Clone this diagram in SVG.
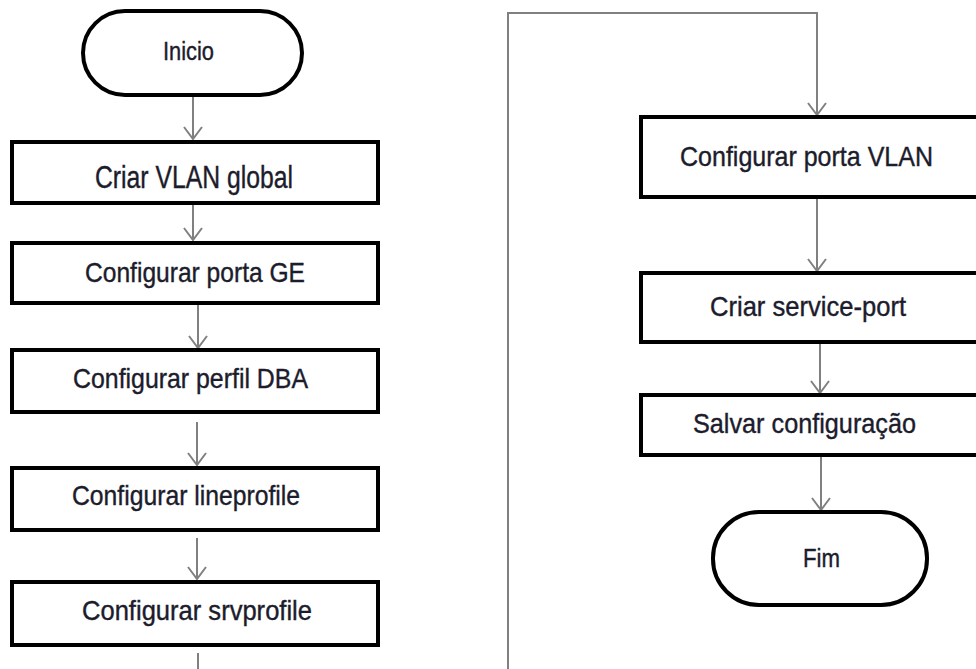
<svg xmlns="http://www.w3.org/2000/svg" width="976" height="669" viewBox="0 0 976 669">
<defs>
<style>
.box{fill:#fff;stroke:#000;stroke-width:4}
.t{font-family:"Liberation Sans",Arial,sans-serif;font-size:28px;fill:#1c1c2c;stroke:#1c1c2c;stroke-width:0.4}
.c{fill:none;stroke:#808080;stroke-width:2}
</style>
<marker id="ah" viewBox="0 0 14 20" refX="13" refY="10" markerWidth="14" markerHeight="20" markerUnits="userSpaceOnUse" orient="auto">
<path d="M1,1 L13,10 L1,19" fill="none" stroke="#808080" stroke-width="2"/>
</marker>
</defs>
<rect width="976" height="669" fill="#fff"/>
<g id="connectors">
<path class="c" d="M193,95 V139" marker-end="url(#ah)"/>
<path class="c" d="M193,203 V240" marker-end="url(#ah)"/>
<path class="c" d="M198,305 V348" marker-end="url(#ah)"/>
<path class="c" d="M197,422 V465" marker-end="url(#ah)"/>
<path class="c" d="M197,538 V579" marker-end="url(#ah)"/>
<path class="c" d="M198,653 V669"/>
<path class="c" d="M508,669 V13 H817 V115" marker-end="url(#ah)"/>
<path class="c" d="M817,197 V271" marker-end="url(#ah)"/>
<path class="c" d="M820,342 V393" marker-end="url(#ah)"/>
<path class="c" d="M821,455 V510" marker-end="url(#ah)"/>
</g>
<g id="inicio">
<rect class="box" x="83" y="11" width="219" height="84" rx="42" ry="42"/>
<text class="t" x="163" y="60" textLength="51" lengthAdjust="spacingAndGlyphs" style="font-size:25px">Inicio</text>
</g>
<g id="criar-vlan">
<rect class="box" x="12" y="142" width="366" height="61"/>
<text class="t" x="95" y="188" textLength="198" lengthAdjust="spacingAndGlyphs" style="font-size:31px">Criar VLAN global</text>
</g>
<g id="porta-ge">
<rect class="box" x="12" y="243" width="366" height="60"/>
<text class="t" x="85" y="282" textLength="220" lengthAdjust="spacingAndGlyphs">Configurar porta GE</text>
</g>
<g id="perfil-dba">
<rect class="box" x="12" y="350" width="366" height="62"/>
<text class="t" x="73" y="388" textLength="235" lengthAdjust="spacingAndGlyphs">Configurar perfil DBA</text>
</g>
<g id="lineprofile">
<rect class="box" x="12" y="468" width="366" height="62"/>
<text class="t" x="72" y="505" textLength="228" lengthAdjust="spacingAndGlyphs">Configurar lineprofile</text>
</g>
<g id="srvprofile">
<rect class="box" x="12" y="582" width="366" height="63"/>
<text class="t" x="82" y="620" textLength="230" lengthAdjust="spacingAndGlyphs">Configurar srvprofile</text>
</g>
<g id="porta-vlan">
<rect class="box" x="641" y="117" width="345" height="80"/>
<text class="t" x="680" y="166" textLength="253" lengthAdjust="spacingAndGlyphs">Configurar porta VLAN</text>
</g>
<g id="service-port">
<rect class="box" x="641" y="273" width="345" height="69"/>
<text class="t" x="710" y="316" textLength="196" lengthAdjust="spacingAndGlyphs">Criar service-port</text>
</g>
<g id="salvar">
<rect class="box" x="641" y="395" width="345" height="60"/>
<text class="t" x="693" y="433" textLength="223" lengthAdjust="spacingAndGlyphs">Salvar configuração</text>
</g>
<g id="fim">
<rect class="box" x="713" y="512" width="214" height="93" rx="46" ry="46"/>
<text class="t" x="803" y="567" textLength="37" lengthAdjust="spacingAndGlyphs" style="font-size:25px">Fim</text>
</g>
</svg>
